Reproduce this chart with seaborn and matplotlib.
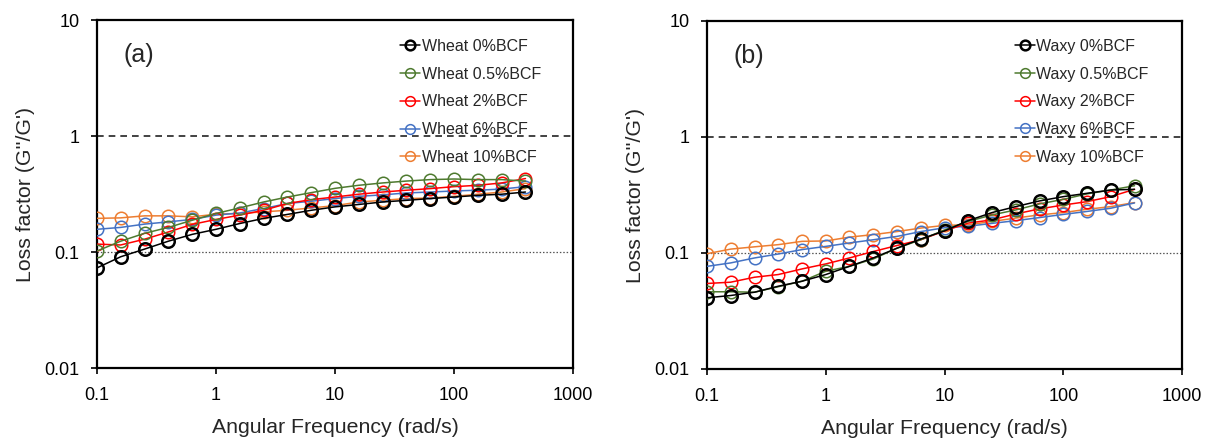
import numpy as np
import pandas as pd
import matplotlib
matplotlib.use("Agg")
import matplotlib.pyplot as plt
import seaborn as sns
from matplotlib.ticker import FixedLocator, FixedFormatter, NullLocator

# ---------------- data ----------------
freq = [0.1, 0.158, 0.251, 0.398, 0.631, 1.0, 1.58, 2.51, 3.98, 6.31,
        10.0, 15.8, 25.1, 39.8, 63.1, 100.0, 158.0, 251.0, 398.0]

wheat_labels = ["Wheat 0%BCF", "Wheat 0.5%BCF", "Wheat 2%BCF", "Wheat 6%BCF", "Wheat 10%BCF"]
wheat_0 = [0.073, 0.091, 0.106, 0.124, 0.142, 0.157, 0.176, 0.195, 0.211, 0.229,
           0.245, 0.257, 0.270, 0.279, 0.289, 0.298, 0.308, 0.315, 0.329]
wheat_05 = [0.102, 0.124, 0.145, 0.163, 0.188, 0.215, 0.240, 0.270, 0.298, 0.325,
            0.354, 0.376, 0.394, 0.409, 0.421, 0.426, 0.421, 0.421, 0.409]
wheat_2 = [0.117, 0.115, 0.129, 0.149, 0.173, 0.191, 0.208, 0.229, 0.262, 0.283,
           0.298, 0.315, 0.329, 0.341, 0.352, 0.366, 0.376, 0.394, 0.430]
wheat_6 = [0.157, 0.163, 0.174, 0.182, 0.191, 0.208, 0.217, 0.237, 0.262, 0.274,
           0.289, 0.302, 0.311, 0.323, 0.329, 0.336, 0.341, 0.349, 0.366]
wheat_10 = [0.195, 0.197, 0.205, 0.205, 0.201, 0.212, 0.215, 0.222, 0.229, 0.240,
            0.251, 0.270, 0.279, 0.289, 0.292, 0.302, 0.315, 0.329, 0.352]

waxy_labels = ["Waxy 0%BCF", "Waxy 0.5%BCF", "Waxy 2%BCF", "Waxy 6%BCF", "Waxy 10%BCF"]
waxy_0 = [0.0411, 0.0430, 0.0459, 0.0517, 0.0571, 0.0652, 0.0767, 0.0906, 0.110, 0.132,
          0.155, 0.190, 0.223, 0.251, 0.281, 0.306, 0.327, 0.349, 0.354]
waxy_05 = [0.0463, 0.0463, 0.0459, 0.0512, 0.0571, 0.0696, 0.0767, 0.0888, 0.110, 0.130,
           0.158, 0.187, 0.213, 0.235, 0.265, 0.290, 0.323, 0.349, 0.380]
waxy_2 = [0.0546, 0.0560, 0.0618, 0.0652, 0.0729, 0.0805, 0.0906, 0.103, 0.116, 0.130,
          0.155, 0.181, 0.193, 0.217, 0.240, 0.259, 0.277, 0.306, 0.354]
waxy_6 = [0.0767, 0.0821, 0.0906, 0.098, 0.107, 0.114, 0.122, 0.130, 0.139, 0.153,
          0.165, 0.170, 0.180, 0.190, 0.202, 0.215, 0.228, 0.243, 0.270]
waxy_10 = [0.0986, 0.108, 0.113, 0.118, 0.126, 0.127, 0.137, 0.144, 0.153, 0.164,
           0.173, 0.175, 0.187, 0.200, 0.213, 0.223, 0.238, 0.251, 0.272]

colors = ["#000000", "#4e7a2f", "#ff0000", "#4472c4", "#ed7d31"]

y_ticks = [0.01, 0.1, 1, 10]
y_ticklabels = ["0.01", "0.1", "1", "10"]
x_ticks = [0.1, 1, 10, 100, 1000]
x_ticklabels = ["0.1", "1", "10", "100", "1000"]

# ---------------- style ----------------
sns.set_style("ticks")
plt.rcParams["font.family"] = ["Liberation Sans", "DejaVu Sans"]

fig = plt.figure(figsize=(12.07, 4.40), dpi=100)
ax_a = fig.add_axes([0.0804, 0.1636, 0.3944, 0.7909])
ax_b = fig.add_axes([0.5858, 0.1614, 0.3935, 0.7909])

panels = [
    (ax_a, "(a)", wheat_labels, [wheat_0, wheat_05, wheat_2, wheat_6, wheat_10], (0.637, 0.946)),
    (ax_b, "(b)", waxy_labels, [waxy_0, waxy_05, waxy_2, waxy_6, waxy_10], (0.648, 0.949)),
]

for ax, tag, labels, series, leg_anchor in panels:
    ax.axhline(1.0, color="#222222", lw=1.2, ls=(0, (4, 3)), zorder=1)
    ax.axhline(0.1, color="#555555", lw=0.9, ls=(0, (1.2, 1.5)), zorder=1)
    for i, (lab, vals) in enumerate(zip(labels, series)):
        df = pd.DataFrame({"freq": freq, "val": vals})
        mew = 1.8 if i == 0 else 1.1
        sns.lineplot(data=df, x="freq", y="val", ax=ax, color=colors[i],
                     lw=1.1, marker="o", markersize=9,
                     markerfacecolor="none", markeredgecolor=colors[i],
                     markeredgewidth=mew, label=lab, zorder=3 + (4 - i) * 0.1)
    ax.set_xscale("log")
    ax.set_yscale("log")
    ax.set_xlim(0.1, 1000)
    ax.set_ylim(0.01, 10)
    ax.xaxis.set_major_locator(FixedLocator(x_ticks))
    ax.xaxis.set_major_formatter(FixedFormatter(x_ticklabels))
    ax.yaxis.set_major_locator(FixedLocator(y_ticks))
    ax.yaxis.set_major_formatter(FixedFormatter(y_ticklabels))
    ax.xaxis.set_minor_locator(NullLocator())
    ax.yaxis.set_minor_locator(NullLocator())
    for s in ax.spines.values():
        s.set_visible(True)
        s.set_linewidth(1.6)
        s.set_color("black")
    ax.tick_params(axis="both", which="major", direction="out", length=4.5,
                   width=1.2, labelsize=13, colors="black")
    ax.tick_params(axis="x", pad=9)
    ax.tick_params(axis="y", pad=8)
    ax.set_xlabel("Angular Frequency (rad/s)", fontsize=15.3, labelpad=10)
    ax.set_ylabel("Loss factor (G''/G')", fontsize=15.3, labelpad=7)
    ax.text(0.055, 0.90, tag, transform=ax.transAxes, fontsize=18,
            ha="left", va="center")
    leg = ax.legend(loc="upper left", bbox_to_anchor=leg_anchor, frameon=False,
                    fontsize=11.5, handlelength=1.25, handletextpad=0.1,
                    labelspacing=0.8, borderaxespad=0, borderpad=0)
    for h in leg.legend_handles:
        h.set_markersize(7)
        h.set_linewidth(1.1)

fig.savefig("out.png", dpi=100)
